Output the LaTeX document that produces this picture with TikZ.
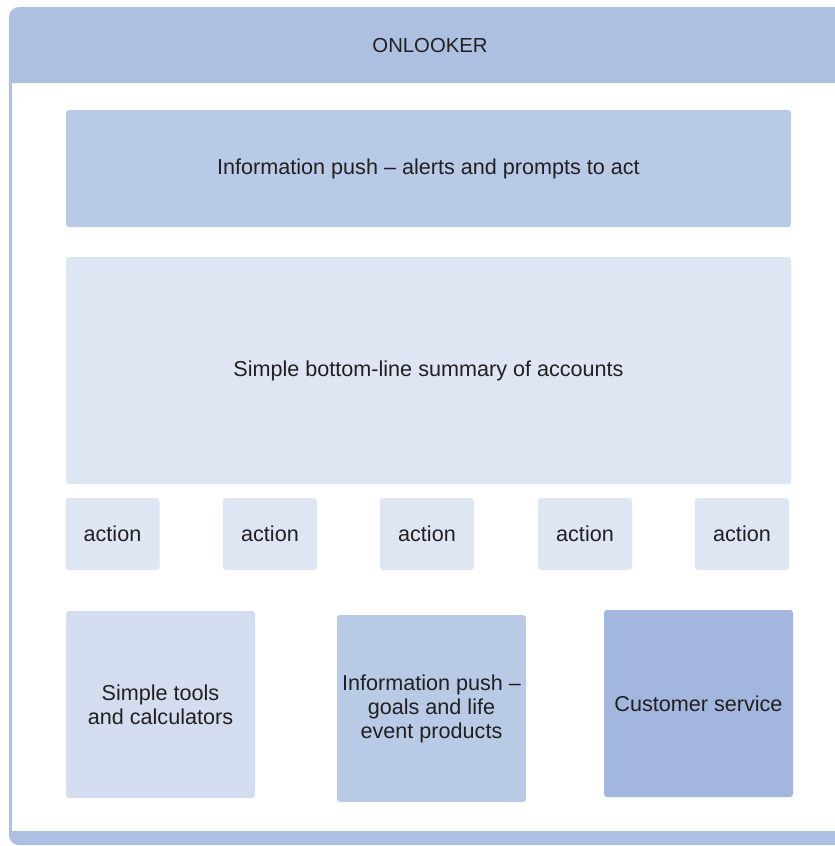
\documentclass[tikz,border=0pt]{standalone}
\usepackage{fontspec}
\setmainfont{Liberation Sans}
\definecolor{frameblue}{HTML}{ADC0E1}
\definecolor{pushblue}{HTML}{B9CAE7}
\definecolor{paleblue}{HTML}{DFE6F3}
\definecolor{toolblue}{HTML}{D3DDEF}
\definecolor{serviceblue}{HTML}{A3B7DE}
\definecolor{textgrey}{HTML}{231F20}
\begin{document}
\begin{tikzpicture}[x=1pt,y=-1pt,
    box/.style={rounded corners=3pt, inner sep=0pt, align=center,
      text=textgrey, font=\fontsize{21.6}{24}\selectfont},
    actionbox/.style={box, fill=paleblue, minimum width=94, minimum height=72}]
    \useasboundingbox (0,0) rectangle (835,846);
    % frame with header band
    \fill[frameblue, rounded corners=10pt] (9,7) rectangle (880,845);
    \fill[white] (12,83) rectangle (880,831);
    \node[text=textgrey, font=\fontsize{20.3}{24}\selectfont] (title) at (430,46) {ONLOOKER};
    % upper rows
    \node[box, fill=pushblue, minimum width=725, minimum height=117] (alerts) at (428.5,168.5)
      {Information push -- alerts and prompts to act};
    \node[box, fill=paleblue, minimum width=725, minimum height=227] (summary) at (428.5,370.5)
      {Simple bottom-line summary of accounts};
    % action row
    \node[actionbox] (act1) at (112.5,534) {action};
    \node[actionbox] (act2) at (270,534) {action};
    \node[actionbox] (act3) at (427,534) {action};
    \node[actionbox] (act4) at (585,534) {action};
    \node[actionbox] (act5) at (742,534) {action};
    % bottom row
    \node[box, fill=toolblue, minimum width=189, minimum height=187] (tools) at (160.5,704.5)
      {Simple tools\\and calculators};
    \node[box, fill=pushblue, minimum width=189, minimum height=187] (goals) at (431.5,708.5)
      {Information push --\\goals and life\\event products};
    \node[box, fill=serviceblue, minimum width=189, minimum height=187] (service) at (698.5,703.5)
      {Customer service};
\end{tikzpicture}
\end{document}
